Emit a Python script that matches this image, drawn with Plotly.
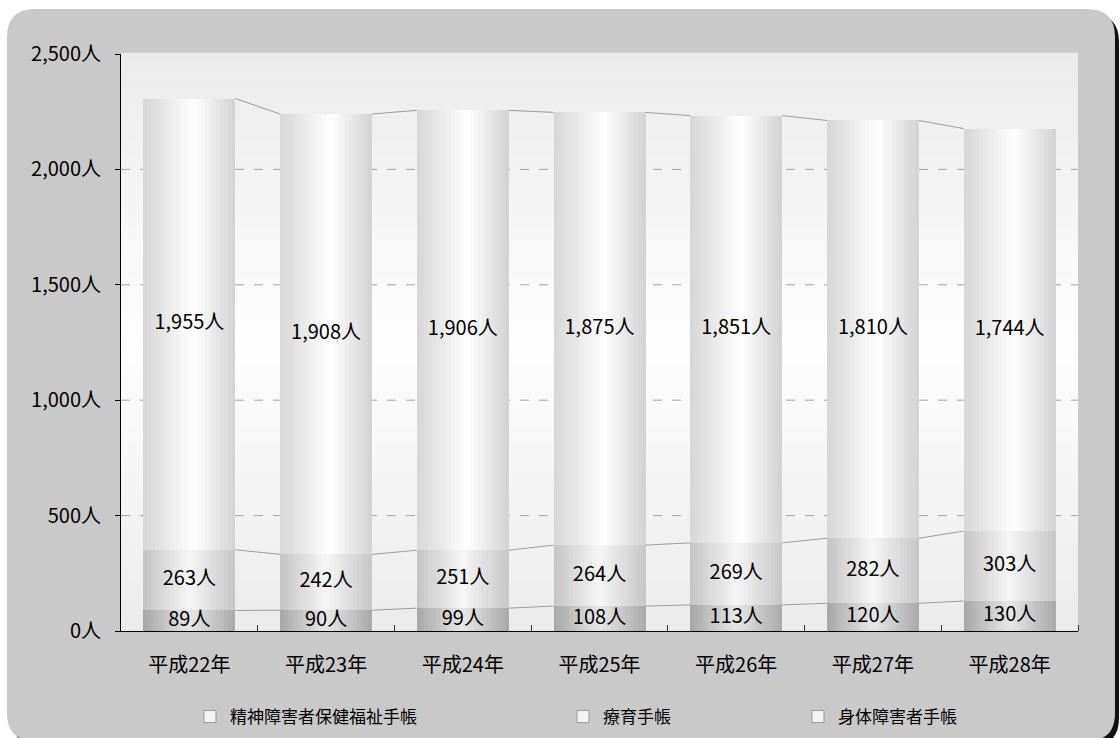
import plotly.graph_objects as go

# --- data ---------------------------------------------------------------
categories = ['平成22年', '平成23年', '平成24年', '平成25年', '平成26年', '平成27年', '平成28年']
seishin = [89, 90, 99, 108, 113, 120, 130]          # 精神障害者保健福祉手帳
ryoiku = [263, 242, 251, 264, 269, 282, 303]        # 療育手帳
shintai = [1955, 1908, 1906, 1875, 1851, 1810, 1744]  # 身体障害者手帳
series_names = ['精神障害者保健福祉手帳', '療育手帳', '身体障害者手帳']
y_ticks = [0, 500, 1000, 1500, 2000, 2500]

# --- geometry of the figure (pixels) -------------------------------------
W, H = 1120, 738
ML, MR, MT, MB = 121, 42, 54, 107
PW, PH = W - ML - MR, H - MT - MB
FONT = 'Noto Sans CJK JP'
FS = 20


def px_x(px):
    return (px - ML) / PW


def px_y(py):
    return (H - MB - py) / PH


def lerp_gray(stops, t):
    for (t0, g0), (t1, g1) in zip(stops, stops[1:]):
        if t <= t1:
            f = 0 if t1 == t0 else (t - t0) / (t1 - t0)
            g = round(g0 + (g1 - g0) * f)
            return f'rgb({g},{g},{g})'
    g = stops[-1][1]
    return f'rgb({g},{g},{g})'


# horizontal shading for each stacked segment (cylinder look)
seg_stops = [
    [(0, 0xa6), (0.5, 0xe8), (1, 0xa8)],
    [(0, 0xc4), (0.5, 0xf6), (1, 0xc6)],
    [(0, 0xd6), (0.55, 0xff), (1, 0xd2)],
]

stacks = [seishin, ryoiku, shintai]
n = len(categories)
xs = list(range(n))
bases = []
run = [0] * n
for vals in stacks:
    bases.append(run[:])
    run = [r + v for r, v in zip(run, vals)]
tops = []
run = [0] * n
for vals in stacks:
    run = [r + v for r, v in zip(run, vals)]
    tops.append(run[:])

bar_w = 0.673
hw = bar_w / 2
n_strips = 24
sw = bar_w / n_strips

fig = go.Figure()

# bars drawn as vertical strips so each segment gets a horizontal gradient
for k in range(n_strips):
    t = (k + 0.5) / n_strips
    bx, by, bb, bc = [], [], [], []
    for s, vals in enumerate(stacks):
        col = lerp_gray(seg_stops[s], t)
        for i in range(n):
            bx.append(xs[i])
            by.append(vals[i])
            bb.append(bases[s][i])
            bc.append(col)
    w = sw * 1.15 if k < n_strips - 1 else sw
    fig.add_trace(go.Bar(
        x=bx, y=by, base=bb,
        offset=-hw + k * sw, width=w,
        marker=dict(color=bc, line=dict(width=0)),
        showlegend=False, hoverinfo='skip',
    ))

# series lines joining the segment tops of neighbouring bars
for lvl in tops:
    lx, ly = [], []
    for i in range(n - 1):
        lx += [xs[i] + hw, xs[i + 1] - hw, None]
        ly += [lvl[i], lvl[i + 1], None]
    fig.add_trace(go.Scatter(
        x=lx, y=ly, mode='lines',
        line=dict(color='#9c9c9c', width=1),
        showlegend=False, hoverinfo='skip',
    ))

# value labels at the middle of each segment
for s, vals in enumerate(stacks):
    fig.add_trace(go.Scatter(
        x=xs, y=[b + v / 2 for b, v in zip(bases[s], vals)],
        mode='text', text=[f'{v:,}人' for v in vals],
        textposition='middle center',
        textfont=dict(family=FONT, size=FS, color='black'),
        showlegend=False, hoverinfo='skip', cliponaxis=False,
    ))

# legend entries
legend_text_px = [230, 603, 838]
legend_ids = ['legend', 'legend2', 'legend3']
for name, lid in zip(series_names, legend_ids):
    fig.add_trace(go.Bar(
        x=[None], y=[None], name=name, legend=lid,
        marker=dict(color='#f4f4f4', line=dict(color='#9a9a9a', width=1)),
    ))


def rounded(x0, y0, x1, y1, r):
    return (
        f'M {px_x(x0 + r)},{px_y(y0)} L {px_x(x1 - r)},{px_y(y0)} '
        f'Q {px_x(x1)},{px_y(y0)} {px_x(x1)},{px_y(y0 + r)} '
        f'L {px_x(x1)},{px_y(y1 - r)} '
        f'Q {px_x(x1)},{px_y(y1)} {px_x(x1 - r)},{px_y(y1)} '
        f'L {px_x(x0 + r)},{px_y(y1)} '
        f'Q {px_x(x0)},{px_y(y1)} {px_x(x0)},{px_y(y1 - r)} '
        f'L {px_x(x0)},{px_y(y0 + r)} '
        f'Q {px_x(x0)},{px_y(y0)} {px_x(x0 + r)},{px_y(y0)} Z'
    )


shapes = []
# drop shadow and rounded grey panel
shapes.append(dict(type='path', xref='paper', yref='paper', layer='below',
                   path=rounded(12, 14, 1119, 746, 28),
                   fillcolor='#111111', line=dict(width=0)))
shapes.append(dict(type='path', xref='paper', yref='paper', layer='below',
                   path=rounded(7, 9, 1115, 741, 28),
                   fillcolor='#c9c9c9', line=dict(width=0)))

# plot-area background: vertical light-grey gradient
bg_stops = [(0, 0xeb), (0.5, 0xfe), (1, 0xeb)]
n_bands = 80
for b in range(n_bands):
    t = (b + 0.5) / n_bands
    shapes.append(dict(type='rect', xref='paper', yref='paper', layer='below',
                       x0=0, x1=1, y0=b / n_bands, y1=(b + 1) / n_bands + 0.002,
                       fillcolor=lerp_gray(bg_stops, t), line=dict(width=0)))

# dashed horizontal grid lines
for v in y_ticks[1:-1]:
    shapes.append(dict(type='line', xref='paper', yref='y', layer='below',
                       x0=0, x1=1, y0=v, y1=v,
                       line=dict(color='#a4a4a4', width=1, dash='9px,10px')))

legend_common = dict(
    orientation='h', yanchor='middle', xanchor='left', y=px_y(717),
    font=dict(family=FONT, size=17, color='black'),
    bgcolor='rgba(0,0,0,0)', itemclick=False, itemdoubleclick=False,
)
legends = {}
for lid, tx in zip(legend_ids, legend_text_px):
    legends[lid] = dict(legend_common, x=px_x(tx - 40))

fig.update_layout(
    width=W, height=H,
    margin=dict(l=ML, r=MR, t=MT, b=MB, pad=0, autoexpand=False),
    paper_bgcolor='white', plot_bgcolor='rgba(0,0,0,0)',
    barmode='overlay', bargap=0,
    shapes=shapes,
    font=dict(family=FONT, size=FS, color='black'),
    **legends,
    xaxis=dict(
        range=[-0.5, n - 0.5], tickmode='array', tickvals=xs, ticktext=categories,
        ticks='', showgrid=False, zeroline=False,
        showline=True, linecolor='black', linewidth=1,
        ticklabelstandoff=16,
        tickfont=dict(family=FONT, size=FS, color='black'),
        minor=dict(tickmode='array', tickvals=[i + 0.5 for i in xs],
                   ticks='inside', ticklen=6, tickcolor='#333333', tickwidth=1,
                   showgrid=False),
        fixedrange=True,
    ),
    yaxis=dict(
        range=[0, 2500], tickmode='array', tickvals=y_ticks,
        ticktext=[f'{v:,}人' for v in y_ticks],
        ticks='outside', ticklen=5, tickcolor='black',
        showgrid=False, zeroline=False,
        showline=True, linecolor='black', linewidth=1,
        ticklabelstandoff=10,
        tickfont=dict(family=FONT, size=FS, color='black'),
        fixedrange=True,
    ),
)

fig.write_html('out.html')
